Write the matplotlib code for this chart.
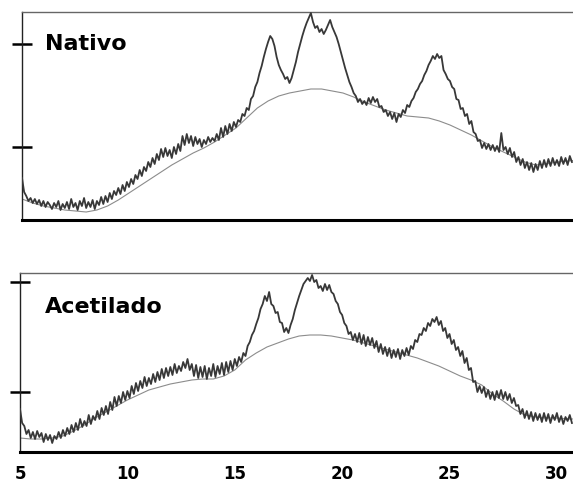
import numpy as np
import matplotlib
matplotlib.use("Agg")
import matplotlib.pyplot as plt

# 2-theta grid start/step for the measured patterns
two_theta_start = 5.0
two_theta_step = 0.1

# Intensity (arbitrary units), 5.0 .. 30.7 deg, step 0.1
nativo = [
    42, 28, 24, 19, 22, 17, 21, 16, 20, 14,
    19, 13, 18, 15, 11, 17, 13, 19, 10, 16,
    12, 18, 11, 21, 13, 17, 10, 19, 14, 22,
    12, 18, 13, 20, 11, 19, 15, 23, 16, 24,
    18, 27, 21, 29, 25, 32, 26, 35, 29, 38,
    33, 41, 36, 45, 41, 50, 44, 53, 49, 58,
    53, 62, 56, 66, 60, 71, 63, 72, 64, 70,
    62, 73, 66, 76, 69, 84, 75, 86, 77, 84,
    74, 83, 76, 81, 73, 80, 76, 83, 78, 82,
    79, 86, 80, 92, 83, 94, 86, 96, 89, 98,
    93, 100, 98, 106, 104, 112, 110, 121, 124, 133,
    138, 147, 154, 163, 171, 178, 184, 181, 174, 163,
    155, 150, 146, 141, 143, 137, 142, 150, 158, 168,
    176, 184, 191, 197, 202, 207, 198, 192, 194, 188,
    191, 186, 190, 195, 200, 193, 188, 183, 176, 168,
    160, 152, 145, 138, 133, 127, 124, 118, 121, 116,
    119, 115, 122, 117, 123, 118, 121, 113, 114, 108,
    110, 104, 108, 101, 107, 98, 106, 103, 110, 107,
    115, 113, 119, 122, 128, 131, 136, 139, 145, 149,
    155, 159, 164, 161, 166, 162, 164, 150, 146, 141,
    139, 133, 131, 121, 120, 111, 112, 104, 106, 96,
    99, 88, 86, 79, 80, 72, 77, 71, 76, 70,
    75, 69, 74, 68, 87, 70, 73, 66, 72, 63,
    68, 58, 63, 55, 61, 52, 58, 50, 57, 48,
    56, 50, 59, 52, 60, 53, 61, 54, 62, 55,
    60, 54, 63, 56, 62, 55, 64, 58,
]

acetilado = [
    43, 29, 26, 18, 22, 14, 20, 13, 21, 15,
    19, 10, 18, 12, 17, 9, 16, 13, 20, 14,
    22, 16, 24, 18, 27, 20, 29, 22, 33, 25,
    31, 26, 37, 28, 36, 32, 41, 33, 44, 37,
    46, 38, 50, 42, 55, 46, 56, 49, 60, 52,
    61, 54, 66, 58, 69, 61, 71, 64, 75, 66,
    74, 68, 78, 70, 80, 72, 83, 74, 84, 76,
    85, 77, 88, 79, 86, 81, 90, 84, 93, 82,
    88, 76, 87, 74, 85, 75, 86, 73, 84, 76,
    88, 75, 86, 78, 89, 77, 90, 80, 91, 82,
    93, 86, 95, 90, 99, 96, 106, 110, 117, 121,
    128, 134, 143, 148, 156, 151, 160, 148, 146, 139,
    140, 130, 129, 120, 124, 119, 127, 133, 142, 149,
    156, 162, 168, 171, 174, 171, 177, 170, 172, 164,
    166, 161, 168, 162, 167, 160, 158, 151, 148, 140,
    137, 129, 126, 118, 120, 112, 118, 110, 119, 108,
    117, 106, 115, 107, 114, 104, 111, 100, 108, 98,
    105, 96, 104, 94, 102, 95, 103, 93, 102, 96,
    104, 97, 106, 103, 112, 110, 118, 117, 124, 121,
    129, 126, 133, 130, 135, 127, 131, 121, 124, 114,
    118, 108, 112, 102, 105, 96, 101, 89, 94, 82,
    84, 70, 71, 60, 66, 59, 65, 55, 62, 53,
    60, 52, 61, 54, 62, 53, 60, 52, 58, 49,
    54, 46, 47, 38, 43, 34, 41, 33, 40, 31,
    39, 32, 38, 30, 39, 31, 38, 29, 37, 32,
    39, 30, 36, 28, 35, 31, 37, 29,
]

# Fitted amorphous background, 5.0 .. 31.0 deg, step 0.5
bg_step = 0.5
nativo_bg = [
    21, 17, 14, 12, 10, 9, 8, 10, 14, 20,
    27, 34, 41, 48, 55, 61, 67, 72, 78, 85,
    92, 102, 112, 119, 124, 127, 129, 131, 131, 129,
    127, 123, 118, 114, 110, 107, 104, 103, 102, 99,
    95, 90, 85, 79, 73, 68, 63, 58, 55, 56,
    58, 59, 60,
]
acetilado_bg = [
    14, 13, 13, 14, 16, 21, 27, 34, 40, 46,
    52, 57, 62, 65, 68, 70, 72, 73, 73, 76,
    82, 92, 99, 105, 109, 113, 116, 117, 117, 116,
    114, 112, 109, 106, 103, 100, 97, 94, 90, 86,
    81, 76, 72, 67, 58, 51, 43, 37, 35, 34,
    34, 33, 33,
]

panel_labels = ["Nativo", "Acetilado"]
x_ticks = [5, 10, 15, 20, 25, 30]

W, H = 573, 486
fig = plt.figure(figsize=(W / 100, H / 100), dpi=100)


def px_axes(left, top, right, bottom):
    return fig.add_axes([left / W, 1 - bottom / H, (right - left) / W, (bottom - top) / H])


ax1 = px_axes(22, 12, 573, 220)
ax2 = px_axes(20, 273, 573, 452)

data_color = "#383838"
bg_color = "#8c8c8c"

panels = [
    (ax1, nativo, nativo_bg, (0, 208), [73, 176]),
    (ax2, acetilado, acetilado_bg, (0, 179), [60, 170]),
]
for ax, y, bg, ylim, yt in panels:
    x = two_theta_start + two_theta_step * np.arange(len(y))
    xb = two_theta_start + bg_step * np.arange(len(bg))
    ax.plot(xb, bg, color=bg_color, lw=0.8, zorder=2)
    ax.plot(x, y, color=data_color, lw=1.3, zorder=3)
    ax.set_xlim(5, 30.75)
    ax.set_ylim(*ylim)
    ax.set_yticks(yt)
    ax.tick_params(axis="y", direction="inout", length=15, width=1.8,
                   color="black", labelleft=False)
    ax.spines["right"].set_visible(False)
    ax.spines["top"].set_color("#666666")
    ax.spines["top"].set_linewidth(1.0)
    ax.spines["left"].set_color("#222222")
    ax.spines["left"].set_linewidth(1.0)
    ax.spines["bottom"].set_color("black")
    ax.spines["bottom"].set_linewidth(2.2)
    ax.set_facecolor("white")

ax1.set_xticks(x_ticks)
ax1.tick_params(axis="x", length=0, labelbottom=False)
ax2.set_xticks(x_ticks)
ax2.set_xticklabels([str(t) for t in x_ticks])
ax2.tick_params(axis="x", length=0, pad=9)
for lab in ax2.get_xticklabels():
    lab.set_fontweight("bold")
    lab.set_fontsize(12)
    lab.set_family("DejaVu Sans")

fig.text(45 / W, 1 - 50 / H, panel_labels[0], fontsize=16, fontweight="bold",
         family="DejaVu Sans", ha="left", va="baseline")
fig.text(45 / W, 1 - 313 / H, panel_labels[1], fontsize=16, fontweight="bold",
         family="DejaVu Sans", ha="left", va="baseline")

fig.savefig("out.png", dpi=100, facecolor="white")
